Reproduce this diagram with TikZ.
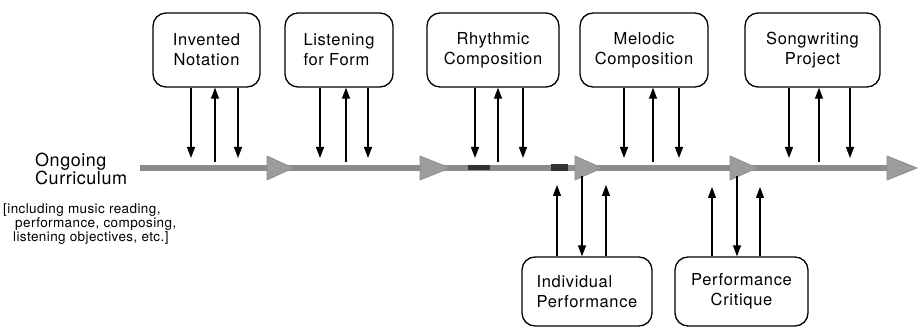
\documentclass[tikz,border=0pt]{standalone}
\usepackage{fontspec}
\setmainfont{TeX Gyre Heros}
\newfontfamily\boxfamily[LetterSpace=4]{TeX Gyre Heros}
\newfontfamily\notefamily[LetterSpace=3]{TeX Gyre Heros}
\usetikzlibrary{arrows.meta}
\definecolor{trackgray}{HTML}{8C8C8C}
\definecolor{tipgray}{HTML}{9C9C9C}
\begin{document}
\begin{tikzpicture}[x=1pt,y=-1pt,
  topic/.style={draw=black, line width=1.3pt, rounded corners=13pt, inner sep=0pt,
    align=center, font={\boxfamily\fontsize{16.5pt}{20pt}\selectfont}},
  toprow/.style={topic, minimum height=74pt},
  botrow/.style={topic, minimum height=69pt},
  link/.style={line width=1.2pt, -{Triangle[length=11pt,width=8pt]}},
  track/.style={draw=trackgray, line width=6.5pt},
  tracktip/.style={fill=tipgray, draw=trackgray, line width=0.8pt, line join=round},
  speck/.style={fill=black!80},
  biglabel/.style={inner sep=0pt, align=left, anchor=north west,
    font={\notefamily\fontsize{18pt}{18.6pt}\selectfont}},
  smalllabel/.style={inner sep=0pt, align=left, anchor=north west,
    font={\notefamily\fontsize{13.5pt}{12.6pt}\selectfont}}
]
\useasboundingbox (0,0) rectangle (918,328);

% the ongoing curriculum track
\coordinate (trackstart) at (140,168);
\coordinate (trackend) at (892,168);
\draw[track] (trackstart) -- (trackend);
\foreach \l/\r in {267/293, 420/450, 575/602, 730/757, 887/917}
  \filldraw[tracktip] (\l,156) -- (\r,168) -- (\l,180) -- cycle;
\fill[speck] (468,165.5) rectangle (490,170.5);
\fill[speck] (551,164.5) rectangle (568,171.5);

% labels on the left
\node[biglabel] (ongoing) at (35,152.7) {Ongoing\\Curriculum};
\node[smalllabel] (note) at (3,203.6)
  {[including music reading,\\\hspace*{12pt}performance, composing,\\\hspace*{10pt}listening objectives, etc.]};

% activity boxes above the track
\node[toprow, minimum width=107pt] (inv)  at (206.5,50) {Invented\\Notation};
\node[toprow, minimum width=108pt, align=left] (lis) at (339,50) {Listening\\for Form};
\node[toprow, minimum width=132pt] (rhy)  at (493,50)   {Rhythmic\\Composition};
\node[toprow, minimum width=128pt] (mel)  at (644,50)   {Melodic\\Composition};
\node[toprow, minimum width=135pt] (song) at (812.5,50) {Songwriting\\Project};

% activity boxes below the track
\node[botrow, minimum width=130pt, align=left] (ind) at (587,291.5) {Individual\\Performance};
\node[botrow, minimum width=133pt] (crit) at (741.5,291.5) {Performance\\Critique};

% exchanges between the upper boxes and the track
\foreach \b/\xa/\xb/\xc in {inv/191/215/238, lis/320/346/368, rhy/475/498/523,
                            mel/624/653/679, song/789/819/850} {
  \coordinate (\b-in1) at (\xa,158);
  \coordinate (\b-out) at (\xb,162);
  \coordinate (\b-in2) at (\xc,158);
  \draw[link] (\b-in1 |- \b.south) -- (\b-in1);
  \draw[link] (\b-out) -- (\b-out |- \b.south);
  \draw[link] (\b-in2 |- \b.south) -- (\b-in2);
}

% exchanges between the lower boxes and the track
\foreach \b/\xa/\xb/\xc/\t in {ind/557/582/606/185, crit/712/737/760/187} {
  \coordinate (\b-out1) at (\xa,\t);
  \coordinate (\b-in)   at (\xb,176);
  \coordinate (\b-out2) at (\xc,\t);
  \draw[link] (\b-out1 |- \b.north) -- (\b-out1);
  \draw[link] (\b-in) -- (\b-in |- \b.north);
  \draw[link] (\b-out2 |- \b.north) -- (\b-out2);
}
\end{tikzpicture}
\end{document}
